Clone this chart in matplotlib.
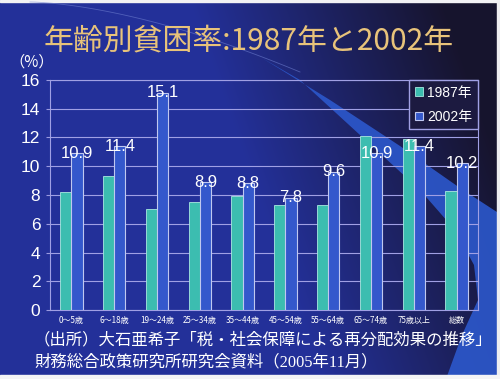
import numpy as np
import matplotlib.pyplot as plt
from matplotlib.patches import Polygon, Rectangle

plt.rcParams['font.family'] = ['Noto Sans CJK JP', 'DejaVu Sans']
NUM_FONT = ['Liberation Sans', 'Noto Sans CJK JP']

categories = ['0～5歳', '6～18歳', '19～24歳', '25～34歳', '35～44歳',
              '45～54歳', '55～64歳', '65～74歳', '75歳以上', '総数']
rate_1987 = [8.2, 9.3, 7.0, 7.5, 7.9, 7.3, 7.3, 12.1, 11.9, 8.3]
rate_2002 = [10.9, 11.4, 15.1, 8.9, 8.8, 7.8, 9.6, 10.9, 11.4, 10.2]
labels_2002 = ['10.9', '11.4', '15.1', '8.9', '8.8', '7.8', '9.6', '10.9', '11.4', '10.2']

W, H = 500, 379
fig = plt.figure(figsize=(W / 100, H / 100), dpi=100)

# slide background: blue on the left, getting dark to the right
bg = fig.add_axes([0, 0, 1, 1], zorder=-10)
yy, xx = np.mgrid[0:H, 0:W]
t = np.clip((xx - 190 - 0.35 * yy) / 250.0, 0, 1)
left = np.array([0.14, 0.19, 0.60])
right = np.array([0.09, 0.08, 0.18])
img = left[None, None, :] * (1 - t[..., None]) + right[None, None, :] * t[..., None]
bg.imshow(img, extent=[0, W, H, 0], aspect='auto')

# bright swoosh (pixel coords, y down)
sw = [(262, 58), (330, 100), (400, 146), (460, 188), (500, 214), (500, 379),
      (446, 379), (462, 335), (478, 300), (474, 265), (455, 230), (420, 190),
      (360, 135), (300, 80)]
bg.add_patch(Polygon(sw, closed=True, facecolor='#2c58cc', edgecolor='none', alpha=0.9))
# faint arc at the top
arc_x = np.linspace(30, 300, 50)
bg.plot(arc_x, 2 + 70 * ((arc_x - 30) / 270) ** 1.6, color='#6f7fd0', lw=0.6, alpha=0.6)
# scan borders
bg.add_patch(Rectangle((0, 0), W, 1.5, color='#f2f2f4'))
bg.add_patch(Rectangle((W - 3, 0), 3, H, color='#eeeef0'))
bg.add_patch(Rectangle((0, H - 4.5), W, 4.5, color='#f4f4f6'))
bg.set_xlim(0, W)
bg.set_ylim(H, 0)
bg.axis('off')

ax = fig.add_axes([0.10, 0.182, 0.856, 0.607])
ax.set_facecolor('none')
x = np.arange(len(categories))
bw = 0.26
ax.bar(x - bw / 2, rate_1987, bw, color='#3cbdb0', edgecolor='#a8e8e0', linewidth=0.6,
       label='1987年', zorder=3)
ax.bar(x + bw / 2, rate_2002, bw, color='#3458cc', edgecolor='#c0c8f0', linewidth=0.8,
       label='2002年', zorder=3)
for xi, v, s in zip(x, rate_2002, labels_2002):
    ax.text(xi + bw / 2, v, s, color='white', fontsize=12, ha='center', va='center',
            family=NUM_FONT, zorder=5)

ax.set_xlim(-0.5, 9.5)
ax.set_ylim(0, 16)
ax.set_yticks(range(0, 17, 2))
ax.set_xticks(x)
ax.set_xticklabels(categories, fontsize=5.8, color='white')
ax.tick_params(axis='y', colors='white', labelsize=12.5, length=3, pad=4)
ax.tick_params(axis='y', color='#9a9ae0')
ax.tick_params(axis='x', length=0, pad=4)
for lab in ax.get_yticklabels():
    lab.set_family(NUM_FONT)
ax.grid(axis='y', color='#a0a0e4', linewidth=0.8, zorder=1)
for sp in ax.spines.values():
    sp.set_color('#a0a0e4')
    sp.set_linewidth(0.8)

leg = ax.legend(loc='upper right', frameon=True, fancybox=False,
                handlelength=0.6, handleheight=0.6, handletextpad=0.3,
                borderpad=0.4, labelspacing=0.75, borderaxespad=0,
                prop={'family': NUM_FONT, 'size': 10})
leg.get_frame().set_facecolor('#1c1a40')
leg.get_frame().set_edgecolor('#a0a0e4')
leg.get_frame().set_alpha(1)
for txt in leg.get_texts():
    txt.set_color('white')

fig.text(0.497, 0.893, '年齢別貧困率:1987年と2002年', color='#e8c37a', fontsize=21.5,
         ha='center', va='center')
fig.text(0.018, 0.836, '（%）', color='white', fontsize=11, ha='left', va='center')
fig.text(0.068, 0.103, '（出所）大石亜希子「税・社会保障による再分配効果の推移」',
         color='white', fontsize=11.8, ha='left', va='center')
fig.text(0.068, 0.045, '財務総合政策研究所研究会資料（2005年11月）',
         color='white', fontsize=11.8, ha='left', va='center',
         family=['Liberation Serif', 'Noto Sans CJK JP'])

fig.savefig('out.png', dpi=100)
